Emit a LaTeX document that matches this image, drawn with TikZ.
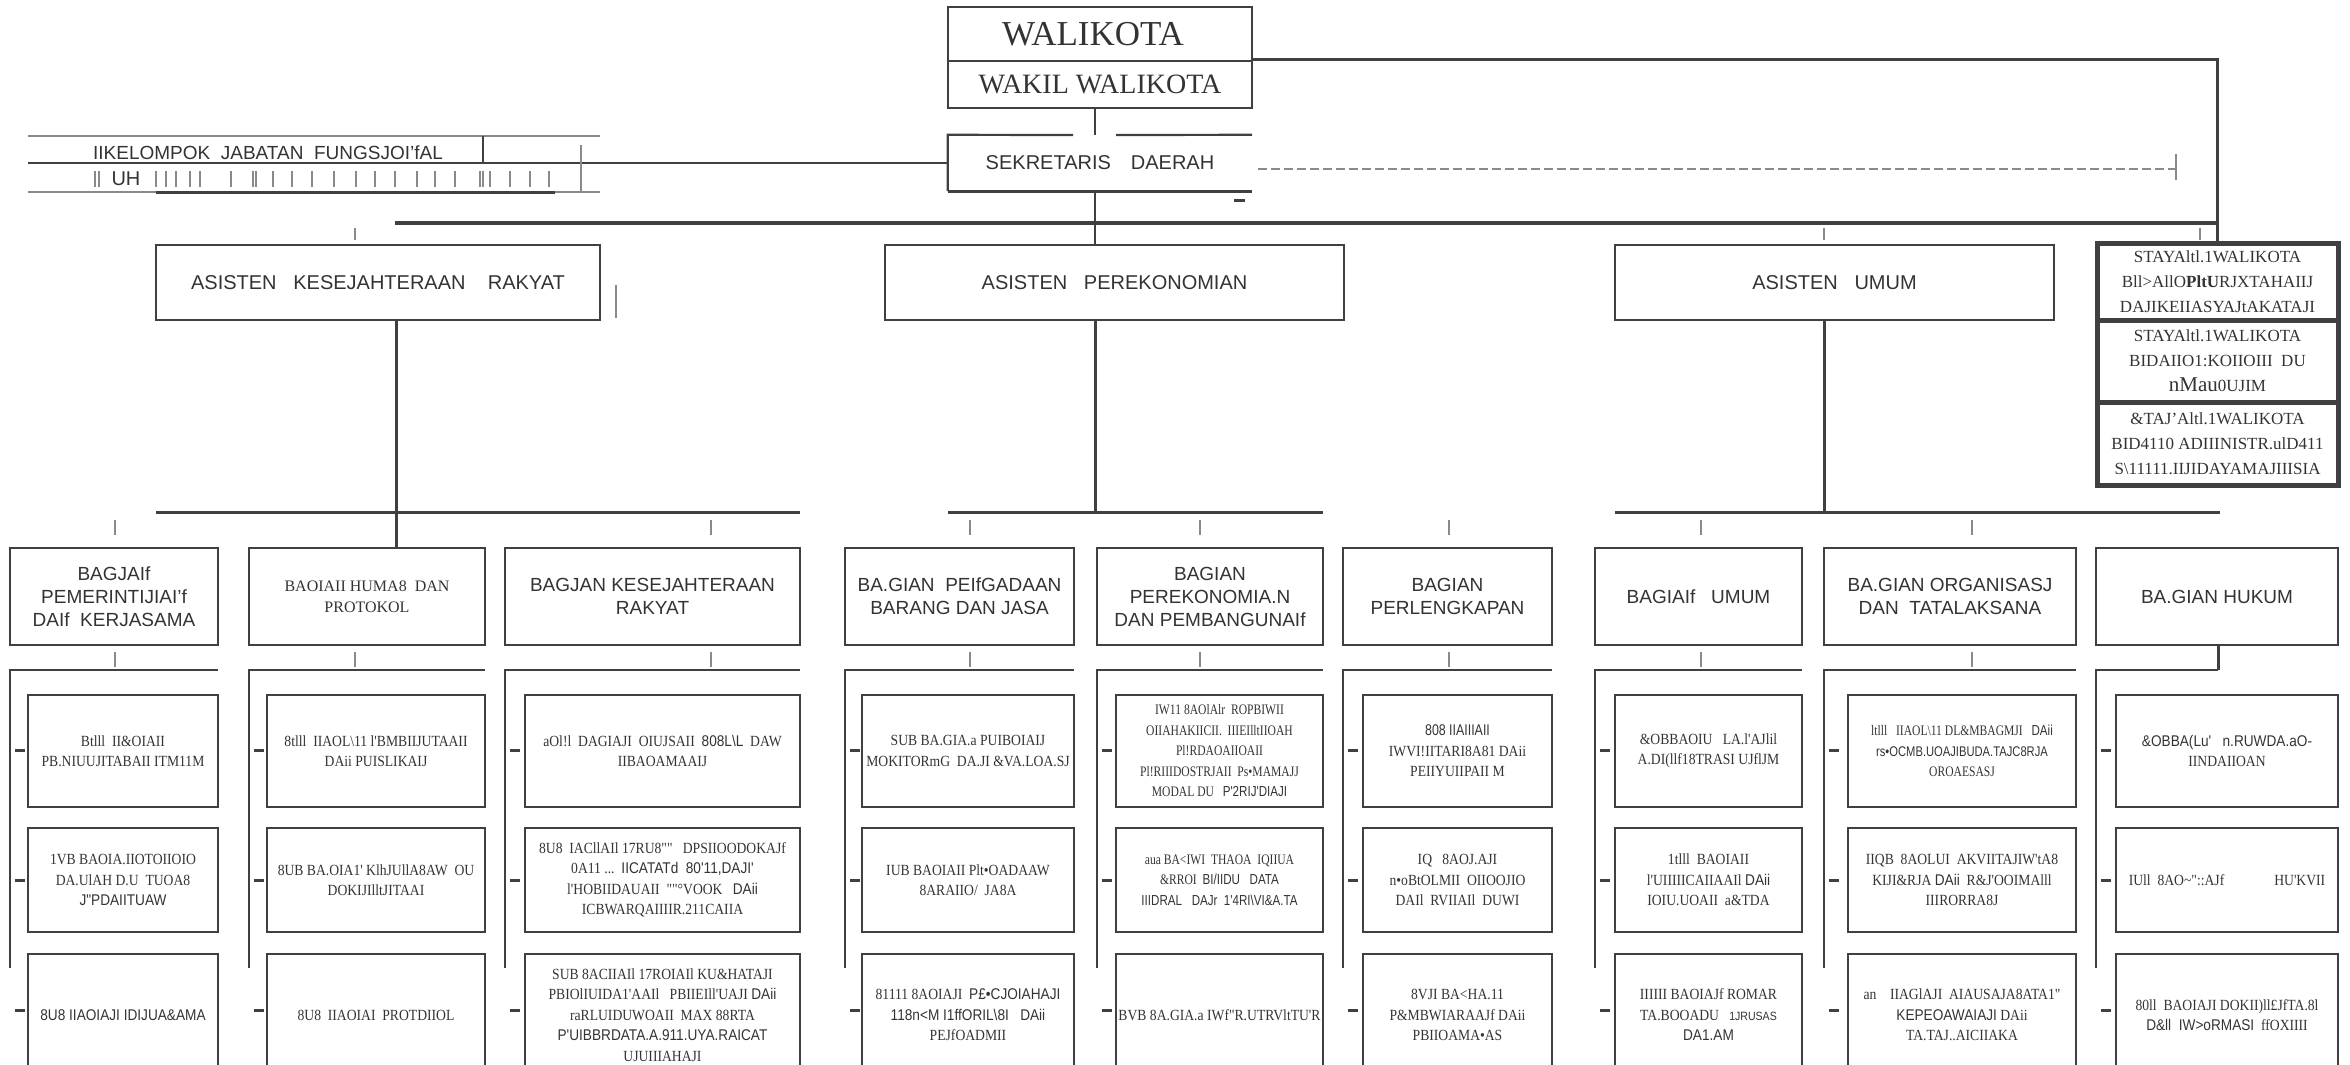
\documentclass[tikz,border=0pt]{standalone}
\usepackage{fontspec}
\setmainfont{Liberation Serif}
\setsansfont{Liberation Sans}
\newfontfamily\cserif{Liberation Serif}[FakeStretch=0.88]
\newfontfamily\csans{Liberation Sans}[FakeStretch=0.88]
\newfontfamily\nserif{Liberation Serif}[FakeStretch=0.80]
\newfontfamily\nsans{Liberation Sans}[FakeStretch=0.80]
\definecolor{ln}{HTML}{404040}
\definecolor{lg}{HTML}{8A8A8A}
\definecolor{tx}{HTML}{333333}
\tikzset{
 box/.style={draw=ln, line width=2.2, inner sep=0pt, align=center, text=tx},
 sub/.style={box, font=\cserif\fontsize{15.5}{20.5}\selectfont},
 subn/.style={box, font=\nserif\fontsize{14.5}{20.5}\selectfont},
 bag/.style={box, minimum height=97, font=\sffamily\fontsize{19}{23}\selectfont},
 asis/.style={box, minimum height=75, font=\sffamily\fontsize{20}{24}\selectfont},
 staffbox/.style={draw=ln, line width=5, inner sep=0pt, align=center, text=tx, minimum width=241, font=\rmfamily\fontsize{17}{25}\selectfont},
 conn/.style={draw=ln, line width=2.2},
 heavy/.style={draw=ln, line width=4},
 tk/.style={draw=lg, line width=1.3},
 dashmark/.style={draw=ln, line width=3},
 ra/.style={minimum height=112},
 rb/.style={minimum height=104},
 rc/.style={minimum height=122},
}
\begin{document}
\begin{tikzpicture}[x=1pt,y=-1pt]
\useasboundingbox (0,0) rectangle (2350,1065);
\clip (0,0) rectangle (2350,1065);

% ---------- top ----------
\node[box, line width=2.6, minimum width=304, minimum height=54, font=\fontsize{35}{40}\selectfont] (wali) at (1100,34) {WALIKOTA\hspace{14pt}};
\node[box, line width=2.6, minimum width=304, minimum height=47, font=\fontsize{28}{32}\selectfont] (wakil) at (1100,84.5) {WAKIL\ WALIKOTA};
\node[inner sep=0pt, minimum width=304, minimum height=56, text=tx, font=\sffamily\fontsize{20}{24}\selectfont] (sek) at (1100,163) {SEKRETARIS\quad DAERAH\hspace{52pt}};
\coordinate (vB) at (1095,0);
\coordinate (gapL) at (1073,135);
\coordinate (gapR) at (1116,135);
\draw[conn] (gapL) -- (sek.north west) -- (sek.south west);
\draw[conn] (gapR) -- (sek.north east);
\draw[conn, line width=3] (sek.south west) -- (sek.south east);
\draw[dashmark] (1234,200) -- (1245,200);
\draw[conn] (wakil.south -| vB) -- (sek.north -| vB);

% staff ahli
\node[staffbox, minimum height=77] (sa1) at (2217.5,281.5) {STAYAltl.1WALIKOTA\\Bll>AllO{\bfseries PltU}RJXTAHAIIJ\\DAJIKEIIASYAJtAKATAJI};
\node[staffbox, minimum height=82] (sa2) at (2217.5,361) {STAYAltl.1WALIKOTA\\BIDAIIO1:KOIIOIII\ \ DU\\{\fontsize{21}{25}\selectfont nMau}0UJIM};
\node[staffbox, minimum height=83] (sa3) at (2217.5,443.5) {\&TAJ'Altl.1WALIKOTA\\BID4110 ADIIINISTR.ulD411\\S\textbackslash11111.IIJIDAYAMAJIIISIA};
\draw[heavy, line width=3] (wakil.north east) -- (wakil.north east -| sa1.north) -- (sa1.north);

% kelompok jabatan fungsional
\node[text=tx, font=\sffamily\fontsize{19}{22}\selectfont] (kjf) at (268,153) {IIKELOMPOK\ \ JABATAN\ \ FUNGSJOI'fAL};
\node[text=tx, font=\sffamily\fontsize{20}{22}\selectfont] (uh) at (126,179) {UH};
\coordinate (kL1) at (28,136); \coordinate (kR1) at (600,136);
\coordinate (kL3) at (28,192); \coordinate (kR3) at (600,192);
\draw[draw=lg, line width=2] (kL1) -- (kR1);
\draw[conn, line width=2.5] (sek.west) -- (sek.west -| kL1);
\draw[draw=lg, line width=2] (kL3) -- (kR3);
\draw[conn, line width=3] (156,192) -- (555,192);
\draw[conn] (483,136) -- (483,163);
\draw[tk] (581,145) -- (581,192);
\foreach \xx in {95,99,156,166,176,190,200,231,253,256,273,292,312,334,356,375,395,417,435,455,480,483,490,510,530,549}
  \draw[tk] (\xx,171) -- (\xx,187);

% dashed line
\coordinate (dl) at (1258,169);
\coordinate (dr) at (2175,169);
\draw[draw=lg, line width=2.5, dash pattern=on 9pt off 4pt] (dl) -- (dr);
\draw[tk] (2176,154) -- (2176,180);

% main horizontal
\coordinate (hL) at (395,223);
\coordinate (hR) at (2218,223);
\draw[heavy] (hL) -- (hR);
\draw[tk] (355,228) -- (355,240);
\draw[tk] (1824,228) -- (1824,240);
\draw[tk] (2200,228) -- (2200,240);

% asisten
\node[asis, minimum width=444] (akr) at (378,282.5) {ASISTEN\ \ \ KESEJAHTERAAN\ \ \ \ RAKYAT};
\node[asis, minimum width=459] (ap) at (1114.5,282.5) {ASISTEN\ \ \ PEREKONOMIAN};
\node[asis, minimum width=439] (au) at (1834.5,282.5) {ASISTEN\ \ \ UMUM};
\draw[tk] (616,285) -- (616,318);
\draw[conn] (sek.south -| vB) -- (ap.north -| vB);

% bagian
\node[bag, minimum width=208] (b1) at (114,596.5) {BAGJAIf\\PEMERINTIJIAI'f\\DAIf\ \ KERJASAMA};
\node[box, minimum width=236, minimum height=97, font=\fontsize{16}{21}\selectfont] (b2) at (367,596.5) {BAOIAII\ HUMA8\ \ DAN\\PROTOKOL};
\node[bag, minimum width=295] (b3) at (652.5,596.5) {BAGJAN KESEJAHTERAAN\\RAKYAT};
\node[bag, minimum width=229] (b4) at (959.5,596.5) {BA.GIAN\ \ PEIfGADAAN\\BARANG DAN JASA};
\node[bag, minimum width=226] (b5) at (1210,596.5) {BAGIAN\\PEREKONOMIA.N\\DAN PEMBANGUNAIf};
\node[bag, minimum width=209] (b6) at (1447.5,596.5) {BAGIAN\\PERLENGKAPAN};
\node[bag, minimum width=207] (b7) at (1698.5,596.5) {BAGIAIf\ \ \ UMUM};
\node[bag, minimum width=252] (b8) at (1950,596.5) {BA.GIAN ORGANISASJ\\DAN\ \ TATALAKSANA};
\node[bag, minimum width=242] (b9) at (2217,596.5) {BA.GIAN HUKUM};

% asisten -> bagian
\coordinate (vA) at (396,0);
\coordinate (vC) at (1824,0);
\draw[heavy, line width=3] (akr.south -| vA) -- (b2.north -| vA);
\draw[heavy, line width=3] (156,512) -- (800,512);
\draw[heavy, line width=3] (ap.south -| vB) -- (1095,512);
\draw[heavy, line width=3] (948,512) -- (1323,512);
\draw[heavy, line width=3] (au.south -| vC) -- (1824,512);
\draw[heavy, line width=3] (1615,512) -- (2220,512);
\foreach \xx in {115,711,970,1200,1449,1701,1972}
  \draw[tk] (\xx,520) -- (\xx,535);
\foreach \xx in {115,355,711,970,1200,1449,1701,1972}
  \draw[tk] (\xx,652) -- (\xx,667);
\coordinate (hk) at (2218,670);
\draw[conn, line width=3] (b9.south -| hk) -- (hk);

% brackets
\foreach \L/\R in {10/218,249/485,505/800,845/1074,1097/1323,1343/1552,1595/1802,1824/2076,2096/2218}{
  \draw[conn, line width=2.5] (\R,670) -- (\L,670) -- (\L,968);
  \draw[dashmark] (\L+5,750) -- (\L+15,750);
  \draw[dashmark] (\L+5,880) -- (\L+15,880);
  \draw[dashmark] (\L+5,1010) -- (\L+15,1010);
}

% sub bagian: column 1
\node[sub, ra, minimum width=190] (c1r1) at (123,751) {Btlll\ \ II\&OIAII\\PB.NIUUJITABAII ITM11M};
\node[sub, rb, minimum width=190] (c1r2) at (123,880) {1VB BAOIA.IIOTOIIOIO\\DA.UlAH D.U\ \ TUOA8\\{\csans J"PDAIITUAW}};
\node[sub, rc, minimum width=190] (c1r3) at (123,1015) {\csans 8U8 IIAOIAJI IDIJUA\&AMA};
% column 2
\node[sub, ra, minimum width=218] (c2r1) at (376,751) {8tlll\ \ IIAOL\textbackslash11 l'BMBIIJUTAAII\\DAii PUISLIKAIJ};
\node[sub, rb, minimum width=218] (c2r2) at (376,880) {8UB BA.OIA1'\ KlhJUllA8AW\ \ OU\\DOKIJIlltJITAAI};
\node[sub, rc, minimum width=218] (c2r3) at (376,1015) {8U8\ \ IIAOIAI\ \ PROTDIIOL};
% column 3
\node[sub, ra, minimum width=275] (c3r1) at (662.5,751) {aOl!l\ \ DAGIAJI\ \ OIUJSAII\ \ {\csans 808L\textbackslash L}\ \ DAW\\IIBAOAMAAIJ};
\node[sub, rb, minimum width=275] (c3r2) at (662.5,880) {8U8\ \ IACllAIl 17RU8""\ \ \ DPSIIOODOKAJf\\0A11 ...\ \ {\csans IICATATd\ \ 80'11,DAJI'}\\l'HOBIIDAUAII\ \ ""°VOOK\ \ \ {\csans DAii}\\ICBWARQAIIIIR.211CAIIA};
\node[sub, rc, minimum width=275] (c3r3) at (662.5,1015) {SUB 8ACIIAIl 17ROIAIl KU\&HATAJI\\PBIOlIUIDA1'AAIl\ \ \ PBIIEIll'UAJI {\csans DAii}\\raRLUIDUWOAII\ \ MAX 88RTA\\{\csans P'UIBBRDATA.A.911.UYA.RAICAT}\\UJUIIIAHAJI};
% column 4
\node[sub, ra, minimum width=212] (c4r1) at (968,751) {SUB BA.GIA.a PUIBOIAIJ\\MOKITORmG\ \ DA.JI \&VA.LOA.SJ};
\node[sub, rb, minimum width=212] (c4r2) at (968,880) {IUB BAOIAII Plt•OADAAW\\8ARAIIO/\ \ JA8A};
\node[sub, rc, minimum width=212] (c4r3) at (968,1015) {81111 8AOIAJI\ \ {\csans P£•CJOIAHAJI}\\{\csans 118n<M I1ffORIL\textbackslash 8I\ \ \ DAii}\\PEJfOADMII};
% column 5
\node[subn, ra, minimum width=207] (c5r1) at (1219.5,751) {IW11 8AOlAlr\ \ ROPBIWII\\OIIAHAKIICII.\ \ IIIEIlltIIOAH\\Pl!RDAOAIIOAII\\Pl!RIIIDOSTRJAII\ \ Ps•MAMAJJ\\MODAL DU\ \ \ {\nsans P'2RIJ'DIAJI}};
\node[subn, rb, minimum width=207] (c5r2) at (1219.5,880) {aua BA<IWI\ \ THAOA\ \ IQIIUA\\\&RROI\ \ {\nsans BI/IIDU\ \ \ DATA}\\{\nsans IIIDRAL\ \ \ DAJr\ \ 1'4RI\textbackslash VI\&A.TA}};
\node[sub, rc, minimum width=207] (c5r3) at (1219.5,1015) {BVB 8A.GIA.a IWf"R.UTRVltTU'R};
% column 6
\node[sub, ra, minimum width=189] (c6r1) at (1457.5,751) {\nsans 808 IIAIIIAII\\IWVI!IITARI8A81 DAii\\PEIIYUIIPAII M};
\node[sub, rb, minimum width=189] (c6r2) at (1457.5,880) {IQ\ \ \ 8AOJ.AJI\\n•oBtOLMII\ \ OIIOOJIO\\DAIl\ \ RVIIAIl\ \ DUWI};
\node[sub, rc, minimum width=189] (c6r3) at (1457.5,1015) {8VJI BA<HA.11\\P\&MBWIARAAJf DAii\\PBIIOAMA•AS};
% column 7
\node[sub, ra, minimum width=187] (c7r1) at (1708.5,751) {\&OBBAOIU\ \ \ LA.l'AJlil\\A.DI(llf18TRASI UJflJM};
\node[sub, rb, minimum width=187] (c7r2) at (1708.5,880) {1tlll\ \ BAOIAII\\l'UIIIIICAIIAAIl {\csans DAii}\\IOIU.UOAII\ \ a\&TDA};
\node[sub, rc, minimum width=187] (c7r3) at (1708.5,1015) {IIIIII BAOIAJf ROMAR\\TA.BOOADU\ \ \ {\csans\fontsize{12}{20.5}\selectfont 1JRUSAS}\\{\csans DA1.AM}};
% column 8
\node[subn, ra, minimum width=228] (c8r1) at (1962,751) {ltlll\ \ \ IIAOL\textbackslash11 DL\&MBAGMJI\ \ \ {\nsans DAii}\\{\nsans\fontsize{14}{20.5}\selectfont rs•OCMB.UOAJIBUDA.TAJC8RJA}\\OROAESASJ};
\node[sub, rb, minimum width=228] (c8r2) at (1962,880) {IIQB\ \ 8AOLUI\ \ AKVIITAJIW'tA8\\KIJI\&RJA {\csans DAii}\ \ R\&J'OOIMAlll\\IIIRORRA8J};
\node[sub, rc, minimum width=228] (c8r3) at (1962,1015) {an\ \ \ \ IIAGlAJI\ \ AIAUSAJA8ATA1"\\{\csans KEPEOAWAIAJI} DAii\\TA.TAJ..AICIIAKA};
% column 9
\node[sub, ra, minimum width=222] (c9r1) at (2227,751) {\csans\&OBBA(Lu'\ \ \ n.RUWDA.aO-\\IINDAIIOAN};
\node[sub, rb, minimum width=222] (c9r2) at (2227,880) {IUll\ \ 8AO\textasciitilde"::AJf\hspace{50pt}HU'KVII};
\node[sub, rc, minimum width=222] (c9r3) at (2227,1015) {80ll\ \ BAOIAJI DOKII)ll£JfTA.8l\\{\csans D\&ll\ \ IW>oRMASI}\ \ ffOXIIII};
\end{tikzpicture}
\end{document}
